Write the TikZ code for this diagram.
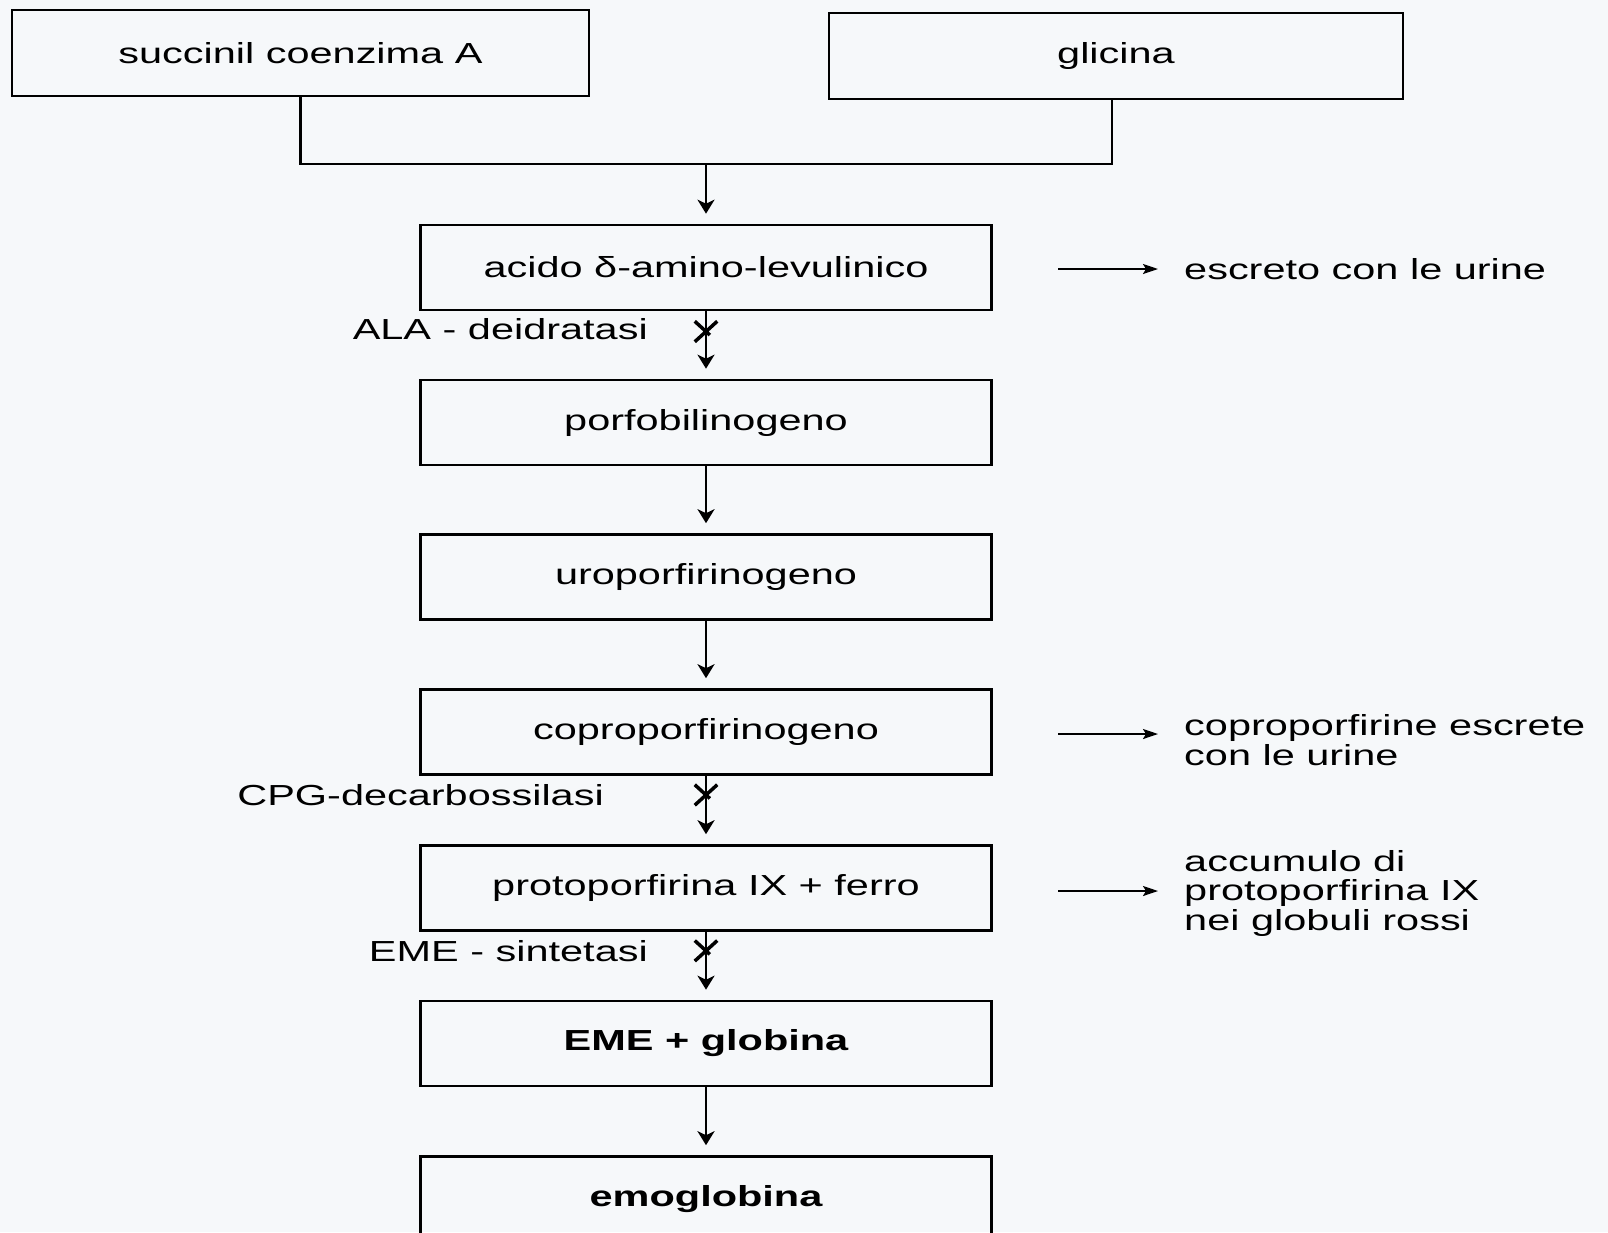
\documentclass[tikz,border=0pt]{standalone}
\usepackage{fontspec}
\setmainfont{Liberation Sans}[FakeStretch=1.43]
\usetikzlibrary{arrows.meta,shapes.misc}
\definecolor{paper}{RGB}{246,248,250}
\begin{document}
\begin{tikzpicture}[x=1pt,y=-1pt,
  txt/.style={font=\fontsize{29}{29.5}\selectfont},
  box/.style={draw, line width=2.6pt, minimum width=571pt, minimum height=85pt, inner sep=0pt, txt},
  bbox/.style={box, font=\fontsize{29}{29.5}\selectfont\bfseries},
  conn/.style={line width=2.5pt},
  arr/.style={conn, shorten >=10pt, -{Stealth[length=14pt,width=17pt,inset=4pt]}},
  sarr/.style={line width=2pt, -{Stealth[length=15pt,width=10pt,inset=3pt]}},
  lbl/.style={inner sep=0pt, txt},
  side/.style={inner sep=0pt, anchor=west, align=left, txt},
  xmark/.style={cross out, draw, line width=3.5pt, minimum width=19pt, minimum height=17pt, inner sep=0pt},
]
\clip (0,0) rectangle (1608,1232);
\fill[paper] (0,0) rectangle (1608,1232);

% top inputs
\node[box, minimum width=577pt, minimum height=86pt] (succ) at (300.5,53) {succinil coenzima A};
\node[box, minimum width=574pt, minimum height=86pt] (glic) at (1116,56) {glicina};
\coordinate (join) at (706,164);
\draw[conn] (succ.south) |- (join) -| ([xshift=-4pt]glic.south);

% main column
\node[box] (ala)   at (706,267.5) {acido δ-amino-levulinico};
\node[box] (porf)  at (706,422.5) {porfobilinogeno};
\node[box] (uro)   at (706,577)   {uroporfirinogeno};
\node[box] (copro) at (706,732)   {coproporfirinogeno};
\node[box] (proto) at (706,888)   {protoporfirina IX + ferro};
\node[bbox] (eme)  at (706,1043.5) {EME + globina};
\node[bbox] (emo)  at (706,1199)  {emoglobina};

\draw[arr] (join) -- (ala.north);
\draw[arr] (ala.south) -- node[pos=0.3, xmark] (x1) {} (porf.north);
\draw[arr] (porf.south) -- (uro.north);
\draw[arr] (uro.south) -- (copro.north);
\draw[arr] (copro.south) -- node[pos=0.28, xmark] (x2) {} (proto.north);
\draw[arr] (proto.south) -- node[pos=0.28, xmark] (x3) {} (eme.north);
\draw[arr] (eme.south) -- (emo.north);

% enzyme labels
\node[lbl, anchor=east] (e1) at (648,329) {ALA - deidratasi};
\node[lbl, anchor=east] (e2) at (604,795) {CPG-decarbossilasi};
\node[lbl, anchor=east] (e3) at (648,951) {EME - sintetasi};

% side outputs
\node[side] (s1) at (1184,269) {escreto con le urine};
\node[side] (s2) at (1184,740) {coproporfirine escrete\\con le urine};
\node[side] (s3) at (1184,893) {accumulo di\\protoporfirina IX\\nei globuli rossi};
\coordinate (s1a) at (1058,269);
\coordinate (s2a) at (1058,734);
\coordinate (s3a) at (1058,891);
\draw[sarr, shorten >=26pt] (s1a) -- (s1a -| s1.west);
\draw[sarr, shorten >=26pt] (s2a) -- (s2a -| s2.west);
\draw[sarr, shorten >=26pt] (s3a) -- (s3a -| s3.west);
\end{tikzpicture}
\end{document}
